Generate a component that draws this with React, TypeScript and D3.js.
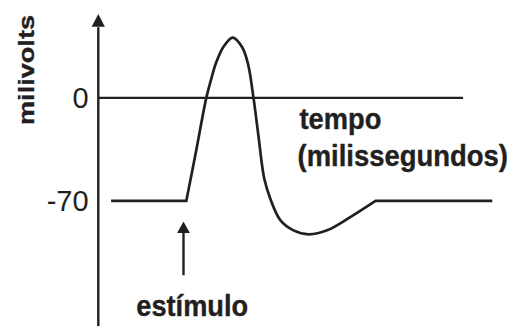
import React from "react";
import * as d3 from "d3";

// action potential trace
const timeMs = [0.32, 2.2, 2.45, 2.7, 2.83, 2.94, 3.13, 3.36, 3.59, 3.74, 3.88, 4.0, 4.15, 4.3, 4.55, 4.88, 5.26, 5.72, 6.3, 6.93, 9.85];
const potentialMv = [-70, -70, -35.4, 0, 13.5, 23.5, 34.8, 41, 34.8, 23.5, 0, -25, -55, -68.5, -83, -90, -92.7, -90, -81, -70, -70];

const yTicks = [0, -70];
const yTickLabels = ["0", "-70"];

const stimulusMs = 2.13;
const stimulusMv = [-84, -120.5];
const timeAxisEndMs = 9.12;

const width = 515;
const height = 329;
const font = "'Liberation Sans', Arial, Helvetica, sans-serif";
const ink = "#231f20";

const x = d3.scaleLinear().domain([0, 10]).range([98.3, 498.3]);
const y = d3.scaleLinear().domain([57, -155]).range([14, 326]);

function arrowHead(cx: number, tipY: number, len: number, half: number) {
  return `M${cx},${tipY}L${cx + half},${tipY + len}L${cx - half},${tipY + len}Z`;
}

// the original lettering is a narrow bold face: smaller size, stretched tall
function Label(props: { x: number; y: number; size: number; stretch: number; text: string }) {
  return (
    <text
      transform={`translate(${props.x},${props.y}) scale(1,${props.stretch})`}
      fontFamily={font}
      fontWeight="bold"
      fontSize={props.size}
      fill={ink}
      stroke={ink}
      strokeWidth={0.35}
    >
      {props.text}
    </text>
  );
}

export default function App() {
  const pts: [number, number][] = timeMs.map((t, i) => [x(t), y(potentialMv[i])]);
  const last = pts.length - 1;

  // flat rest segments are straight, the spike itself is smooth
  const spike = d3
    .line()
    .curve(d3.curveCatmullRom.alpha(0.5))(pts.slice(1, last));
  const trace =
    `M${pts[0][0]},${pts[0][1]}` +
    (spike || "").replace(/^M/, "L") +
    `L${pts[last][0]},${pts[last][1]}`;

  const axisX = x(0);

  return (
    <svg
      width={width}
      height={height}
      style={{ position: "absolute", left: 0, top: 0, background: "#fff" }}
    >
      {/* y axis with arrow */}
      <line x1={axisX} x2={axisX} y1={y(48)} y2={y(-155)} stroke={ink} strokeWidth={2.4} />
      <path d={arrowHead(axisX, y(57), 12.7, 6.6)} fill={ink} />

      {/* time axis at 0 mV */}
      <line x1={axisX} x2={x(timeAxisEndMs)} y1={y(0)} y2={y(0)} stroke={ink} strokeWidth={2.4} />

      {yTicks.map((v, i) => (
        <text
          key={v}
          x={88.6}
          y={y(v) + 10.5}
          textAnchor="end"
          fontFamily={font}
          fontSize={29}
          fill={ink}
        >
          {yTickLabels[i]}
        </text>
      ))}

      <path d={trace} fill="none" stroke={ink} strokeWidth={2.7} strokeLinejoin="miter" />

      {/* stimulus arrow */}
      <line
        x1={x(stimulusMs)}
        x2={x(stimulusMs)}
        y1={y(stimulusMv[0]) + 10}
        y2={y(stimulusMv[1])}
        stroke={ink}
        strokeWidth={2.4}
      />
      <path d={arrowHead(x(stimulusMs), y(stimulusMv[0]), 11.6, 6.4)} fill={ink} />

      <text
        transform="translate(34,70) rotate(-90)"
        textAnchor="middle"
        fontFamily={font}
        fontWeight="bold"
        fontSize={22.5}
        textLength={110}
        lengthAdjust="spacingAndGlyphs"
        fill={ink}
        stroke={ink}
        strokeWidth={0.35}
      >
        milivolts
      </text>

      <Label x={299.5} y={129.3} size={27.3} stretch={1.1} text="tempo" />
      <Label x={297.5} y={166} size={27.45} stretch={1.093} text="(milissegundos)" />
      <Label x={136.3} y={316} size={27.2} stretch={1.1} text="estímulo" />
    </svg>
  );
}
